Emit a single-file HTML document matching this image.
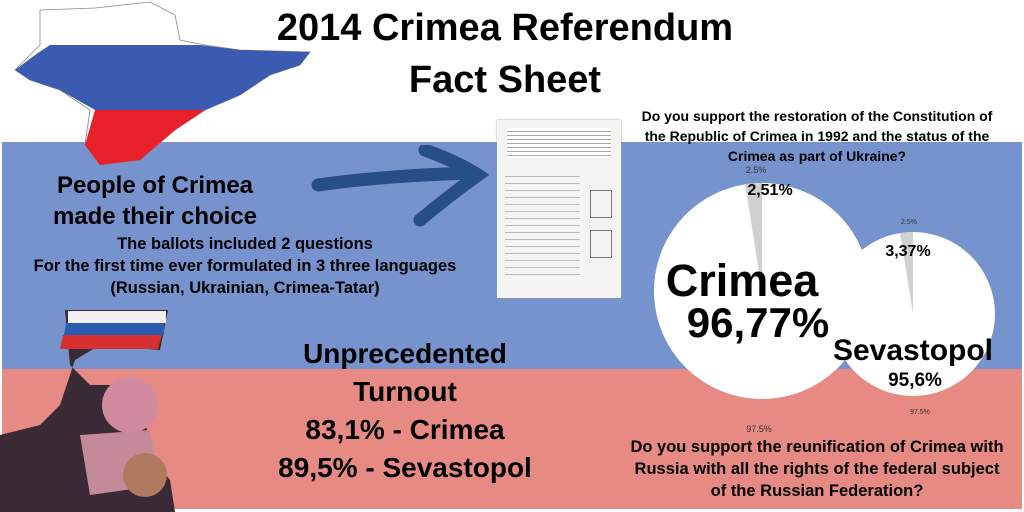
<!DOCTYPE html>
<html><head><meta charset="utf-8">
<style>
body{margin:0;width:1024px;height:512px;overflow:hidden;background:#fff;position:relative;font-family:"Liberation Sans",sans-serif;font-weight:bold;color:#000}
.a{position:absolute;text-align:center;white-space:nowrap}
</style></head><body>
<div style="position:absolute;left:2px;top:142px;width:1020px;height:227px;background:#7693ce"></div>
<div style="position:absolute;left:2px;top:369px;width:1020px;height:140px;background:#e78a84"></div>

<svg style="position:absolute;left:0;top:0" width="320" height="180">
<path d="M40,10 L95,8 L150,2 L175,15 L180,40 L205,45 L240,50 L310,52 L300,65 L270,75 L240,95 L205,110 L175,130 L140,160 L100,165 L85,145 L90,110 L60,90 L30,80 L15,70 L30,55 L40,45Z" fill="#fff" stroke="#888" stroke-width="0.8"/>
<path d="M15,70 L35,55 L50,45 L200,45 L240,50 L310,52 L300,65 L270,75 L240,95 L205,110 L95,110 L60,90 L30,80Z" fill="#3b5bb0"/>
<path d="M95,110 L205,110 L175,130 L140,160 L100,165 L85,145Z" fill="#e8202a"/>
</svg>

<div class="a" style="left:230px;top:2px;width:550px;font-size:38px;line-height:52px">2014 Crimea Referendum<br>Fact Sheet</div>

<svg style="position:absolute;left:310px;top:145px" width="180" height="90">
<path d="M8,40 Q80,30 165,28 M115,5 Q150,18 168,30 Q140,50 110,75" fill="none" stroke="#284e8a" stroke-width="13" stroke-linecap="round"/>
</svg>

<div style="position:absolute;left:497px;top:120px;width:124px;height:178px;background:#f4f4f2;box-shadow:0 0 2px #999">
<div style="position:absolute;left:10px;top:8px;width:104px;height:30px;background:repeating-linear-gradient(#fff 0 3px,#aaa 3px 4px)"></div>
<div style="position:absolute;left:8px;top:50px;width:75px;height:110px;background:repeating-linear-gradient(#f4f4f2 0 6px,#bbb 6px 7px)"></div>
<div style="position:absolute;left:93px;top:70px;width:20px;height:26px;border:1px solid #777"></div>
<div style="position:absolute;left:93px;top:110px;width:20px;height:26px;border:1px solid #777"></div>
</div>

<div class="a" style="left:20px;top:170px;width:270px;font-size:24px;line-height:31px">People of Crimea<br>made their choice</div>
<div class="a" style="left:0px;top:233px;width:490px;font-size:16.5px;line-height:22px">The ballots included 2 questions<br>For the first time ever formulated in 3 three languages<br>(Russian, Ukrainian, Crimea-Tatar)</div>

<svg style="position:absolute;left:0;top:305px" width="185" height="207">
<path d="M65,5 L168,5 L160,45 L100,40 L75,55 L60,100 L40,120 L0,130 L0,207 L175,207 L170,175 L150,150 L145,110 L125,80 L90,80 L70,60Z" fill="#3a2a35"/>
<path d="M68,6 L166,6 L166,18 L68,18Z" fill="#f0f0f0"/>
<path d="M66,18 L164,18 L164,30 L64,30Z" fill="#2a5db0"/>
<path d="M63,30 L162,30 L158,44 L60,44Z" fill="#d83030"/>
<circle cx="130" cy="100" r="28" fill="#d28aa0"/>
<path d="M80,130 L150,125 L160,180 L90,190Z" fill="#c58a9a"/>
<circle cx="145" cy="170" r="22" fill="#b07a60"/>
</svg>

<div class="a" style="left:255px;top:335px;width:300px;font-size:28px;line-height:38px">Unprecedented<br>Turnout<br>83,1% - Crimea<br>89,5% - Sevastopol</div>

<div class="a" style="left:612px;top:106px;width:410px;font-size:14px;line-height:20px">Do you support the restoration of the Constitution of<br>the Republic of Crimea in 1992 and the status of the<br>Crimea as part of Ukraine?</div>
<div class="a" style="left:612px;top:436px;width:410px;font-size:16.5px;line-height:22px">Do you support the reunification of Crimea with<br>Russia with all the rights of the federal subject<br>of the Russian Federation?</div>

<svg id="pies" style="position:absolute;left:0;top:0" width="1024" height="512"></svg>
<script>
const regions=["Crimea","Sevastopol"];
const againstShare=[2.5,2.5];
const forShare=[97.5,97.5];
const centers=[[762,291,108],[913,314,82]];
const svg=document.getElementById('pies');
const NS='http://www.w3.org/2000/svg';
function pt(cx,cy,r,frac){const a=frac*2*Math.PI;return [cx+r*Math.sin(a),cy-r*Math.cos(a)];}
regions.forEach((r,i)=>{
 const [cx,cy,rad]=centers[i];
 const tot=againstShare[i]+forShare[i];
 const f=againstShare[i]/tot;
 const c=document.createElementNS(NS,'circle');
 c.setAttribute('cx',cx);c.setAttribute('cy',cy);c.setAttribute('r',rad);c.setAttribute('fill','#fff');
 
 
 svg.appendChild(c);
 const p1=pt(cx,cy,rad,-f);
 const s=document.createElementNS(NS,'path');
 s.setAttribute('d',`M${cx},${cy} L${cx},${cy-rad} A${rad},${rad} 0 0 0 ${p1[0]},${p1[1]} Z`);
 s.setAttribute('fill','#d0d0d0');
 
 
 svg.appendChild(s);
 const t1=document.createElementNS(NS,'text');
 t1.setAttribute('x',cx-(i?4:6));t1.setAttribute('y',cy-rad-10+(i?2:0));t1.setAttribute('text-anchor','middle');
 t1.setAttribute('font-size',i?7:9);t1.setAttribute('fill','#333');t1.setAttribute('font-weight','normal');
 t1.textContent=againstShare[i]+'%';
 
 
 svg.appendChild(t1);
 const t2=document.createElementNS(NS,'text');
 t2.setAttribute('x',cx+(i?7:-3));t2.setAttribute('y',cy+rad+(i?18:33));t2.setAttribute('text-anchor','middle');
 t2.setAttribute('font-size',i?7:9);t2.setAttribute('fill','#333');t2.setAttribute('font-weight','normal');
 t2.textContent=forShare[i]+'%';
 
 
 svg.appendChild(t2);
});
</script>

<div class="a" style="left:720px;top:182px;width:100px;font-size:16px">2,51%</div>
<div class="a" style="left:858px;top:243px;width:100px;font-size:16px">3,37%</div>
<div class="a" style="left:632px;top:255px;width:220px;font-size:45px;line-height:52px">Crimea</div>
<div class="a" style="left:648px;top:298px;width:220px;font-size:42px;line-height:50px">96,77%</div>
<div class="a" style="left:818px;top:333px;width:190px;font-size:30px;line-height:36px">Sevastopol</div>
<div class="a" style="left:865px;top:370px;width:100px;font-size:19px">95,6%</div>
</body></html>
